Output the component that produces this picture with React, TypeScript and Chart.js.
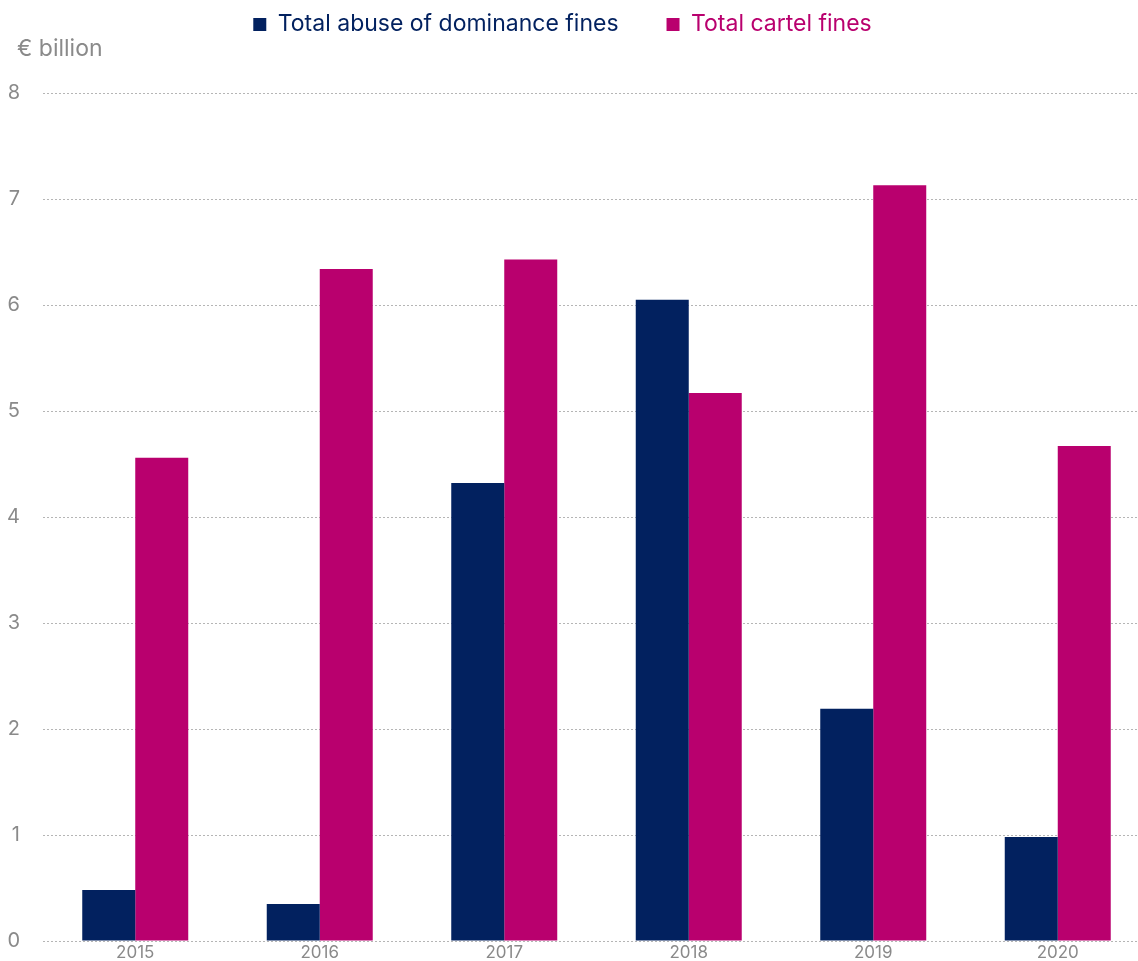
import React, { useEffect, useRef } from "react";
import { Chart, registerables } from "chart.js";

Chart.register(...registerables);

const years = ["2015", "2016", "2017", "2018", "2019", "2020"];
const abuseFines = [0.48, 0.35, 4.32, 6.05, 2.19, 0.98];
const cartelFines = [4.56, 6.34, 6.43, 5.17, 7.13, 4.67];
const yTicks = [0, 1, 2, 3, 4, 5, 6, 7, 8];
const seriesNames = ["Total abuse of dominance fines", "Total cartel fines"];
const unitLabel = "€ billion";

const NAVY = "#02215F";
const MAGENTA = "#B9006E";
const GRAY = "#8a8a8a";

export default function App() {
  const ref = useRef<HTMLCanvasElement | null>(null);

  useEffect(() => {
    document.body.style.margin = "0";
    const canvas = ref.current;
    if (!canvas) return;

    const unitPlugin = {
      id: "unitLabel",
      afterLayout(chart: any) {
        if (chart.legend) {
          chart.legend.right -= 33;
        }
      },
      afterDraw(chart: any) {
        const ctx = chart.ctx;
        ctx.save();
        ctx.font = "23px Inter";
        ctx.fillStyle = GRAY;
        ctx.textAlign = "left";
        ctx.textBaseline = "middle";
        ctx.fillText(unitLabel, 17, 49);
        ctx.restore();
      },
    };

    const chart = new Chart(canvas, {
      type: "bar",
      data: {
        labels: years,
        datasets: [
          {
            label: seriesNames[0],
            data: abuseFines,
            backgroundColor: NAVY,
            borderWidth: 0,
            categoryPercentage: 0.5745,
            barPercentage: 1,
          },
          {
            label: seriesNames[1],
            data: cartelFines,
            backgroundColor: MAGENTA,
            borderWidth: 0,
            categoryPercentage: 0.5745,
            barPercentage: 1,
          },
        ],
      },
      options: {
        responsive: false,
        animation: false,
        devicePixelRatio: 1,
        layout: { padding: { left: 8, right: 0, top: -35, bottom: 0 } },
        font: { family: "Inter" },
        plugins: {
          tooltip: { enabled: false },
          legend: {
            position: "top",
            labels: {
              boxWidth: 13,
              boxHeight: 13,
              padding: 48,
              font: { family: "Inter", size: 23 },
              generateLabels: (c: any) =>
                Chart.defaults.plugins.legend.labels
                  .generateLabels(c)
                  .map((l: any) => ({ ...l, fontColor: l.fillStyle, lineWidth: 0 })),
            },
          },
          title: {
            display: true,
            text: "",
            weight: 500,
            font: { size: 10, lineHeight: 1 },
            padding: { top: 0, bottom: 37 },
          } as any,
        },
        scales: {
          x: {
            grid: { display: false, drawTicks: false },
            border: { display: false },
            afterFit: (scale: any) => {
              scale.height = 21;
            },
            ticks: {
              color: GRAY,
              font: { family: "Inter", size: 17 },
              padding: 2,
            },
          },
          y: {
            min: 0,
            max: 8,
            afterFit: (scale: any) => {
              scale.width = 35;
            },
            afterBuildTicks: (scale: any) => {
              scale.ticks = yTicks.map((v) => ({ value: v }));
            },
            grid: {
              color: "#b5b5b5",
              lineWidth: 1,
              drawTicks: false,
            },
            border: { display: false, dash: [2, 2] },
            ticks: {
              color: GRAY,
              font: { family: "Inter", size: 20 },
              padding: 23,
            },
          },
        },
      },
      plugins: [unitPlugin],
    } as any);

    return () => chart.destroy();
  }, []);

  return (
    <div style={{ width: 1138, height: 961, overflow: "hidden", position: "relative" }}>
      <canvas
        ref={ref}
        width={1150}
        height={976}
        style={{ position: "absolute", left: 0, top: 0, width: 1150, height: 976 }}
      />
    </div>
  );
}
